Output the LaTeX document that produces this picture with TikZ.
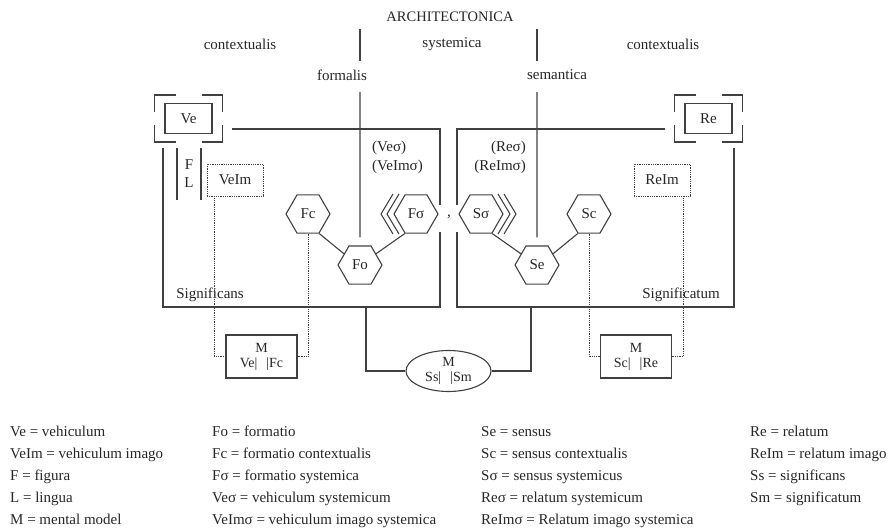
\documentclass[tikz,border=0pt]{standalone}
\usepackage{fontspec}
\setmainfont{Liberation Serif}
\usetikzlibrary{shapes.geometric}
\begin{document}
\begin{tikzpicture}[x=1pt,y=-1pt,
  every node/.style={font=\fontsize{15}{16}\selectfont, text=black!85, inner sep=0pt},
  solidln/.style={draw=black!75, line width=1.1pt},
  dotln/.style={draw=black!75, line width=0.8pt, densely dotted},
  hexa/.style={regular polygon, regular polygon sides=6, minimum size=44pt, solidln, inner sep=0pt},
  boxa/.style={rectangle, solidln, minimum width=47pt, minimum height=30pt},
  mbox/.style={rectangle, solidln, minimum width=71pt, minimum height=43pt, align=center, font=\fontsize{14}{15}\selectfont},
  imbox/.style={rectangle, dotln, minimum width=56pt, minimum height=32pt},
  lg/.style={anchor=base west},
]
\useasboundingbox (0,0) rectangle (889,530);

% header
\node (title) at (450,17) {\fontsize{14.5}{16}\selectfont ARCHITECTONICA};
\node (ctxL) at (240,44) {contextualis};
\node (sys) at (452,44) {systemica};
\node (ctxR) at (663,44) {contextualis};
\node (form) at (342,75) {formalis};
\node (sem) at (557,75) {semantica};
\draw[solidln] (360,29) -- (360,61);
\draw[solidln] (537,29) -- (537,61);

% Ve and Re with corner brackets
\node[boxa] (Ve) at (188.5,118.5) {Ve};
\node[boxa] (Re) at (708.5,118.5) {Re};
\foreach \n in {Ve,Re}{
  \begin{scope}[shift={(\n.center)}]
    \draw[solidln] (-34,-6.5) -- (-34,-23.5) -- (-13,-23.5);
    \draw[solidln] (13,-23.5) -- (34,-23.5) -- (34,-6.5);
    \draw[solidln] (-34,6.5) -- (-34,23.5) -- (-13,23.5);
    \draw[solidln] (13,23.5) -- (34,23.5) -- (34,6.5);
  \end{scope}
}

% Significans frame
\coordinate (lt1) at (232,129);
\coordinate (lt2) at (440,129);
\coordinate (lg1) at (440,205);
\coordinate (lg2) at (440,232);
\coordinate (lbr) at (440,307);
\coordinate (lbl) at (163,307);
\coordinate (ltl) at (163,148);
\draw[solidln] (lt1) -- (lt2) -- (lg1);
\draw[solidln] (lg2) -- (lbr) -- (lbl) -- (ltl);
% Significatum frame
\coordinate (rt1) at (665,129);
\coordinate (rt2) at (457,129);
\coordinate (rg1) at (457,205);
\coordinate (rg2) at (457,232);
\coordinate (rbl) at (457,307);
\coordinate (rbr) at (734,307);
\coordinate (rtr) at (734,148);
\draw[solidln] (rt1) -- (rt2) -- (rg1);
\draw[solidln] (rg2) -- (rbl) -- (rbr) -- (rtr);

% F / L
\draw[solidln] (177,148) -- (177,200);
\draw[solidln] (201,148) -- (201,200);
\node (F) at (189,165) {F};
\node (L) at (189,183) {L};

% image boxes
\node[imbox] (VeIm) at (235,180) {VeIm};
\node[imbox] (ReIm) at (662,180) {ReIm};

% hexagons
\node[hexa] (Fc) at (308,214) {Fc};
\node[hexa] (Fs) at (416,214) {Fσ};
\node[hexa] (Fo) at (360,265) {Fo};
\node[hexa] (Ss) at (481,214) {Sσ};
\node[hexa] (Sc) at (589,214) {Sc};
\node[hexa] (Se) at (537,265) {Se};
\draw[solidln] (Fc.-60) -- (Fo.145);
\draw[solidln] (Fs.240) -- (Fo.35);
\draw[solidln] (Ss.-60) -- (Se.145);
\draw[solidln] (Sc.240) -- (Se.35);

% chevrons
\begin{scope}[shift={(Fs.center)}]
  \draw[solidln] (-17,-20) -- (-29,0) -- (-17,20);
  \draw[solidln] (-23,-20) -- (-35,0) -- (-23,20);
\end{scope}
\begin{scope}[shift={(Ss.center)}]
  \draw[solidln] (17,-20) -- (29,0) -- (17,20);
  \draw[solidln] (23,-20) -- (35,0) -- (23,20);
\end{scope}

% formalis / semantica lines
\draw[solidln] (360,92) -- ([yshift=8pt]Fo.north);
\draw[solidln] (537,92) -- ([yshift=8pt]Se.north);

% systemic labels
\node[anchor=west] at (372,148) {(Veσ)};
\node[anchor=west] at (372,167) {(VeImσ)};
\node[anchor=east] at (526,148) {(Reσ)};
\node[anchor=east] at (526,167) {(ReImσ)};
\node[anchor=base] at (449,216) {,};

\node (sgs) at (210,295) {Significans};
\node (sgt) at (681,295) {Significatum};

% mental models
\node[mbox] (ML) at (261.5,356.5) {M\\Ve|\hspace{9pt}|Fc};
\node[mbox] (MR) at (636,356.5) {M\\Sc|\hspace{9pt}|Re};
\node[ellipse, solidln, minimum width=85pt, minimum height=41pt, align=center, font=\fontsize{14}{15}\selectfont] (E) at (448.5,371) {M\\Ss|\hspace{9pt}|Sm};

\draw[dotln] ([xshift=-21pt]VeIm.south) |- (ML.west);
\draw[dotln] (Fc.south) |- (ML.east);
\draw[dotln] (Sc.south) |- (MR.west);
\draw[dotln] ([xshift=21pt]ReIm.south) |- (MR.east);

\coordinate (lb) at (366,307);
\coordinate (rb) at (531,307);
\draw[solidln] (lb) |- (E.west);
\draw[solidln] (rb) |- (E.east);

% legend
\node[lg] at (10,436) {Ve = vehiculum};
\node[lg] at (10,458) {VeIm = vehiculum imago};
\node[lg] at (10,480) {F = figura};
\node[lg] at (10,502) {L = lingua};
\node[lg] at (10,524) {M = mental model};
\node[lg] at (212,436) {Fo = formatio};
\node[lg] at (212,458) {Fc = formatio contextualis};
\node[lg] at (212,480) {Fσ = formatio systemica};
\node[lg] at (212,502) {Veσ = vehiculum systemicum};
\node[lg] at (212,524) {VeImσ = vehiculum imago systemica};
\node[lg] at (481,436) {Se = sensus};
\node[lg] at (481,458) {Sc = sensus contextualis};
\node[lg] at (481,480) {Sσ = sensus systemicus};
\node[lg] at (481,502) {Reσ = relatum systemicum};
\node[lg] at (481,524) {ReImσ = Relatum imago systemica};
\node[lg] at (750,436) {Re = relatum};
\node[lg] at (750,458) {ReIm = relatum imago};
\node[lg] at (750,480) {Ss = significans};
\node[lg] at (750,502) {Sm = significatum};
\end{tikzpicture}
\end{document}
